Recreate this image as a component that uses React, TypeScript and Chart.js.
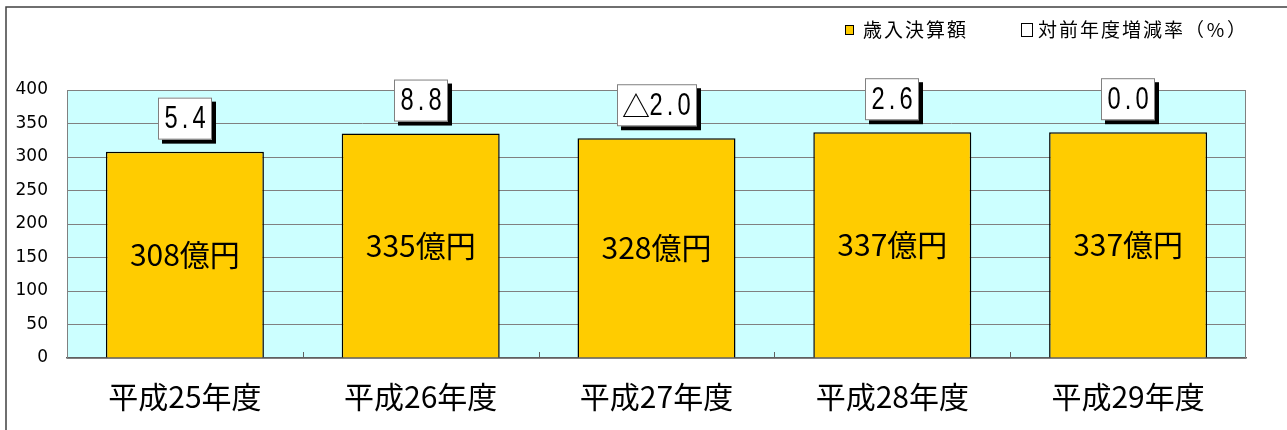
import React, { useEffect, useRef } from "react";
import { Chart, registerables } from "chart.js";

Chart.register(...registerables);

// ---- data ----
const categories = ["平成25年度", "平成26年度", "平成27年度", "平成28年度", "平成29年度"];
const revenue = [308, 335, 328, 337, 337];
const revenueUnit = "億円";
const changeRates = ["5.4", "8.8", "△2.0", "2.6", "0.0"];
const yMin = 0;
const yMax = 400;
const yStep = 50;
const legendLabels = ["歳入決算額", "対前年度増減率（%）"];

const BAR_COLOR = "#FFCC00";
const PLOT_BG = "#CCFFFF";
const GRID = "#808080";

function isWide(ch: string) {
  return ch.charCodeAt(0) > 0x2000;
}

const decor = {
  id: "decor",
  beforeDraw(chart: any) {
    const { ctx, chartArea: a } = chart;
    ctx.save();
    ctx.fillStyle = "#ffffff";
    ctx.fillRect(0, 0, chart.width, chart.height);
    ctx.fillStyle = PLOT_BG;
    ctx.fillRect(a.left, a.top, a.right - a.left, a.bottom - a.top);
    ctx.strokeStyle = "#404040";
    ctx.lineWidth = 1.5;
    ctx.strokeRect(6, 7, chart.width + 20, chart.height + 20);
    ctx.restore();
  },
  beforeDatasetsDraw(chart: any) {
    const { ctx, chartArea: a } = chart;
    const xs = chart.scales.x;
    ctx.save();
    ctx.strokeStyle = GRID;
    ctx.lineWidth = 1;
    ctx.strokeRect(a.left + 0.5, a.top + 0.5, a.right - a.left - 1, a.bottom - a.top);
    ctx.strokeStyle = "#606060";
    for (let i = 0; i < categories.length - 1; i++) {
      const x = Math.round((xs.getPixelForValue(i) + xs.getPixelForValue(i + 1)) / 2) + 0.5;
      ctx.beginPath();
      ctx.moveTo(x, a.bottom);
      ctx.lineTo(x, a.bottom - 6);
      ctx.stroke();
    }
    ctx.restore();
  },
  afterDatasetsDraw(chart: any) {
    const { ctx } = chart;
    const meta = chart.getDatasetMeta(0);
    ctx.save();
    meta.data.forEach((el: any, i: number) => {
      // value label in the bar
      ctx.fillStyle = "#000";
      ctx.font = '30px "Noto Sans CJK JP"';
      ctx.textAlign = "center";
      ctx.textBaseline = "middle";
      ctx.fillText(`${revenue[i]}${revenueUnit}`, el.x, (el.y + el.base) / 2);

      // rate box
      const txt = changeRates[i];
      const chars = Array.from(txt);
      const cellW = chars.map((c) => (isWide(c) ? 26 : 14));
      const tw = cellW.reduce((s, w) => s + w, 0);
      const w = tw + 12;
      const h = 42;
      const bottom = el.y - 12;
      const top = bottom - h;
      const left = Math.round(el.x - w / 2);
      ctx.fillStyle = "#000";
      ctx.fillRect(left + 4, top + 4, w, h);
      ctx.fillStyle = "#fff";
      ctx.fillRect(left, top, w, h);
      ctx.strokeStyle = "#808080";
      ctx.lineWidth = 1;
      ctx.strokeRect(left + 0.5, top + 0.5, w - 1, h - 1);
      ctx.fillStyle = "#000";
      let cx = left + 6;
      chars.forEach((c, k) => {
        const mid = cx + cellW[k] / 2;
        const my = top + h / 2 + 1;
        ctx.textAlign = "center";
        ctx.textBaseline = "middle";
        if (isWide(c)) {
          ctx.font = '28px "Noto Sans CJK JP"';
          ctx.fillText(c, mid, my);
        } else {
          ctx.save();
          ctx.translate(mid, my);
          ctx.scale(0.74, 1);
          ctx.font = '32px "Liberation Sans"';
          ctx.fillText(c, 0, 0);
          ctx.restore();
        }
        cx += cellW[k];
      });
    });
    ctx.restore();
  },
  afterDraw(chart: any) {
    const { ctx } = chart;
    ctx.save();
    // legend item 1
    ctx.fillStyle = BAR_COLOR;
    ctx.fillRect(845, 25, 9, 10);
    ctx.strokeStyle = "#000";
    ctx.lineWidth = 1;
    ctx.strokeRect(845.5, 25.5, 8, 9);
    // legend item 2
    ctx.fillStyle = "#fff";
    ctx.fillRect(1021, 23, 12, 14);
    ctx.strokeRect(1021.5, 23.5, 11, 13);
    ctx.fillStyle = "#000";
    ctx.font = '19px "Noto Sans CJK JP"';
    ctx.textAlign = "center";
    ctx.textBaseline = "middle";
    const starts = [862, 1037];
    legendLabels.forEach((lab, j) => {
      Array.from(lab).forEach((c, k) => {
        ctx.fillText(c, starts[j] + k * 21 + 10.5, 30);
      });
    });
    ctx.restore();
  },
};

export default function App() {
  const ref = useRef<HTMLCanvasElement | null>(null);
  useEffect(() => {
    if (!ref.current) return;
    const chart = new Chart(ref.current, {
      type: "bar",
      data: {
        labels: categories,
        datasets: [
          {
            label: legendLabels[0],
            data: revenue,
            backgroundColor: BAR_COLOR,
            borderColor: "#000",
            borderWidth: 1.5,
            categoryPercentage: 1,
            barPercentage: 0.67,
          },
        ],
      },
      options: {
        responsive: false,
        animation: false,
        devicePixelRatio: 1,
        layout: { padding: { left: 0, right: 41, top: 90, bottom: 0 } },
        plugins: { legend: { display: false }, tooltip: { enabled: false } },
        scales: {
          x: {
            offset: true,
            grid: { display: false, drawTicks: false },
            border: { color: "#606060", width: 1.5 },
            ticks: {
              color: "#000",
              padding: 21,
              font: { family: '"Noto Sans CJK JP"', size: 30 },
            },
            afterFit: (s: any) => {
              s.height = 72;
            },
          },
          y: {
            min: yMin,
            max: yMax,
            ticks: {
              stepSize: yStep,
              color: "#000",
              padding: 19,
              font: { family: '"DejaVu Sans"', size: 17 },
            },
            grid: { color: GRID, drawTicks: false, lineWidth: 1 },
            border: { color: GRID },
            afterFit: (s: any) => {
              s.width = 67;
            },
          },
        },
      },
      plugins: [decor],
    });
    return () => chart.destroy();
  }, []);
  return (
    <div style={{ position: "absolute", left: 0, top: 0, width: 1287, height: 430 }}>
      <canvas ref={ref} width={1287} height={430} style={{ display: "block" }} />
    </div>
  );
}
